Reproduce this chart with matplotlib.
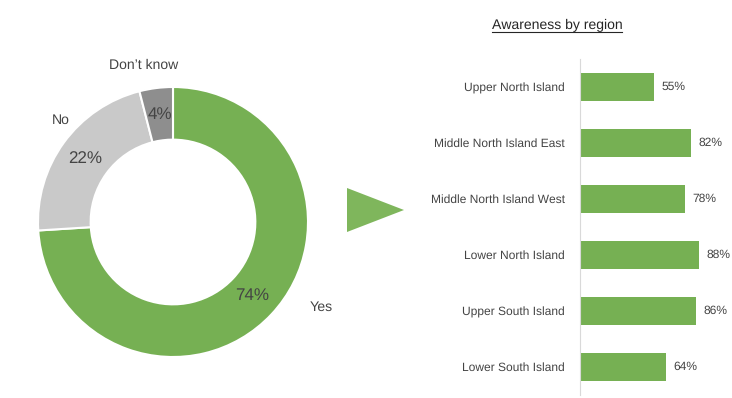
import matplotlib
matplotlib.use("Agg")
import matplotlib.pyplot as plt
from matplotlib.patches import Polygon
from matplotlib.lines import Line2D

plt.rcParams['font.family'] = ['Liberation Sans', 'DejaVu Sans']
plt.rcParams['text.hinting'] = 'no_hinting'
plt.rcParams['text.hinting_factor'] = 1

# Donut data
answers = ['Yes', 'No', 'Don\u2019t know']
shares = [74, 22, 4]
donut_colors = ['#76b053', '#c9c9c9', '#8e8e8e']

# Bar data
regions = ['Upper North Island', 'Middle North Island East', 'Middle North Island West',
           'Lower North Island', 'Upper South Island', 'Lower South Island']
awareness = [55, 82, 78, 88, 86, 64]

W, H = 732, 398
fig = plt.figure(figsize=(W / 100, H / 100), dpi=100)
txt = '#444444'

# Donut chart
cx, cy, r = 173, 222, 135
ax1 = fig.add_axes([(cx - r) / W, (H - cy - r) / H, 2 * r / W, 2 * r / H])
wedges, _, autotexts = ax1.pie(shares, colors=donut_colors, startangle=90, counterclock=False,
                               radius=1, autopct='%d%%', pctdistance=0.8,
                               wedgeprops=dict(width=0.39, edgecolor='white', linewidth=1.5),
                               textprops=dict(color=txt, fontsize=12))
ax1.set_xlim(-1, 1)
ax1.set_ylim(-1, 1)
ax1.set_aspect('equal')
ax1.axis('off')

label_pos = [(1.10, -0.63), (-0.83, 0.756), (-0.22, 1.163)]
for name, (lx, ly) in zip(answers, label_pos):
    ax1.text(lx, ly, name, ha='center', va='center', fontsize=10, color=txt, clip_on=False)

# Arrow triangle
tri = Polygon([[347 / W, 1 - 188 / H], [347 / W, 1 - 232 / H], [404 / W, 1 - 210 / H]],
              closed=True, transform=fig.transFigure, facecolor='#7fb65c', edgecolor='none')
fig.patches.append(tri)

# Bar chart
ax2 = fig.add_axes([580 / W, 3 / H, 135 / W, 336 / H])
ypos = list(range(len(regions)))
ax2.barh(ypos, awareness, height=0.5, color='#76b053')
ax2.set_xlim(0, 100)
ax2.set_ylim(len(regions) - 0.5, -0.5)
ax2.set_yticks(ypos)
ax2.set_yticklabels(regions, fontsize=8.5, color=txt)
ax2.tick_params(axis='y', length=0, pad=11)
ax2.set_xticks([])
for s in ['top', 'right', 'bottom']:
    ax2.spines[s].set_visible(False)
ax2.spines['left'].set_color('#d9d9d9')
for y, v in zip(ypos, awareness):
    ax2.text(v + 5.5, y, f'{v}%', va='center', ha='left', fontsize=8.5, color=txt)

title = fig.text(557 / W, 1 - 25 / H, 'Awareness by region', ha='center', va='center',
                 fontsize=10, color='#262626')
fig.canvas.draw()
bb = title.get_window_extent().transformed(fig.transFigure.inverted())
fig.lines.append(Line2D([bb.x0, bb.x1], [bb.y0 - 0.002, bb.y0 - 0.002], transform=fig.transFigure,
                        color='#262626', linewidth=0.8))

fig.savefig('out.png', dpi=100)
